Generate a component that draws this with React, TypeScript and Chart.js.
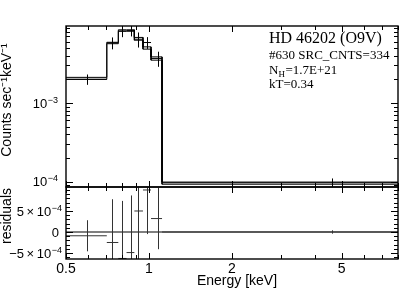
import React, { useEffect, useRef } from 'react';
import { Chart, registerables } from 'chart.js';

Chart.register(...registerables);

// ---- data (energy in keV) ----
const binLo = [0.5, 0.703, 0.774, 0.829, 0.885, 0.951, 1.017, 1.115];
const binHi = [0.703, 0.774, 0.829, 0.885, 0.951, 1.017, 1.115, 8.0];
const binMid = [0.596, 0.736, 0.801, 0.859, 0.913, 0.985, 1.075, 4.6];
const rate = [2.0e-3, 5.8e-3, 8.2e-3, 8.3e-3, 6.46e-3, 5.86e-3, 3.68e-3, 9.7e-5];
const rateErr = [0.3e-3, 1.0e-3, 1.35e-3, 1.3e-3, 1.4e-3, 1.0e-3, 0.8e-3, 1.3e-5];
const modelA = [2.115e-3, 5.9e-3, 8.5e-3, 8.5e-3, 6.8e-3, 5.16e-3, 3.85e-3, 9.9e-5];
const modelB = [1.995e-3, 5.66e-3, 8.15e-3, 8.15e-3, 6.27e-3, 4.83e-3, 3.5e-3, 9.3e-5];
const resid = [-0.9e-4, -2.5e-4, -6.3e-4, -4.9e-4, 5.0e-4, 1.0e-3, 3.2e-4, 0];
const residErr = [3.7e-4, 1.03e-3, 1.37e-3, 1.36e-3, 1.3e-3, 1.05e-3, 7.3e-4, 0.4e-4];

// ---- axes ----
const xMin = 0.5;
const xMax = 8.0;
const yTopMin = 8.57e-5;
const yTopMax = 9.5e-3;
const yResMin = -6.43e-4;
const yResMax = 1.071e-3;

const xLabelVals = [0.5, 1, 2, 5];
const xLabelText = ['0.5', '1', '2', '5'];
const xTickVals = [0.5, 0.6, 0.7, 0.8, 0.9, 1, 2, 3, 4, 5, 6, 7, 8];
const yTopLabelVals = [1e-4, 1e-3];
const yTopLabelBase = ['10', '10'];
const yTopLabelSup = ['\u22124', '\u22123'];
const yTopTickVals = [
  9e-5, 1e-4, 2e-4, 3e-4, 4e-4, 5e-4, 6e-4, 7e-4, 8e-4, 9e-4,
  1e-3, 2e-3, 3e-3, 4e-3, 5e-3, 6e-3, 7e-3, 8e-3, 9e-3,
];
const yResLabelVals = [-5e-4, 0, 5e-4];
const yResLabelBase = ['\u22125\u2009\u00D7\u200910', '0', '5\u2009\u00D7\u200910'];
const yResLabelSup = ['\u22124', '', '\u22124'];
const yResTickVals = [-6e-4, -5e-4, -4e-4, -3e-4, -2e-4, -1e-4, 0, 1e-4, 2e-4, 3e-4, 4e-4, 5e-4, 6e-4, 7e-4, 8e-4, 9e-4, 1e-3];

const yTitle = 'Counts sec\u207B\u00B9keV\u207B\u00B9';
const resTitle = 'residuals';
const xTitle = 'Energy [keV]';
const annot1 = 'HD 46202 (O9V)';
const annot2 = '#630 SRC_CNTS=334';
const annot3a = 'N';
const annot3sub = 'H';
const annot3b = '=1.7E+21';
const annot4 = 'kT=0.34';

const SANS = '"Liberation Sans", Arial, Helvetica, sans-serif';
const SERIF = '"Liberation Serif", "Times New Roman", serif';

function stepPoints(vals: number[]) {
  const pts: { x: number; y: number }[] = [];
  vals.forEach((v, i) => {
    pts.push({ x: binLo[i], y: v });
    pts.push({ x: binHi[i], y: v });
  });
  return pts;
}

function drawCrosses(chart: any, vals: number[], errs: number[], color: string, isLog: boolean) {
  const { ctx, chartArea: a, scales } = chart;
  const x = scales.x;
  const y = scales.y;
  ctx.save();
  ctx.beginPath();
  ctx.rect(a.left, a.top, a.right - a.left, a.bottom - a.top);
  ctx.clip();
  ctx.strokeStyle = color;
  ctx.lineWidth = 1;
  for (let i = 0; i < vals.length; i++) {
    const yv = y.getPixelForValue(vals[i]);
    ctx.beginPath();
    ctx.moveTo(x.getPixelForValue(binLo[i]), yv);
    ctx.lineTo(x.getPixelForValue(binHi[i]), yv);
    const xm = Math.round(x.getPixelForValue(binMid[i])) + 0.5;
    const lo = vals[i] - errs[i];
    ctx.moveTo(xm, y.getPixelForValue(vals[i] + errs[i]));
    ctx.lineTo(xm, isLog && lo <= 0 ? a.bottom + 5 : y.getPixelForValue(lo));
    ctx.stroke();
  }
  ctx.restore();
}

function drawTicksAndFrame(chart: any, yVals: number[], yMajor: number[]) {
  const { ctx, chartArea: a, scales } = chart;
  const x = scales.x;
  const y = scales.y;
  ctx.save();
  ctx.strokeStyle = '#000';
  ctx.lineWidth = 1;
  ctx.beginPath();
  xTickVals.forEach((v) => {
    const px = Math.round(x.getPixelForValue(v)) + 0.5;
    const len = xLabelVals.includes(v) ? 6 : 4;
    ctx.moveTo(px, a.top);
    ctx.lineTo(px, a.top + len);
    ctx.moveTo(px, a.bottom);
    ctx.lineTo(px, a.bottom - len);
  });
  yVals.forEach((v) => {
    const py = Math.round(y.getPixelForValue(v)) + 0.5;
    if (py < a.top || py > a.bottom) return;
    const len = yMajor.includes(v) ? 7 : 4;
    ctx.moveTo(a.left, py);
    ctx.lineTo(a.left + len, py);
    ctx.moveTo(a.right, py);
    ctx.lineTo(a.right - len, py);
  });
  ctx.stroke();
  ctx.lineWidth = 1.4;
  ctx.strokeRect(a.left, a.top, a.right - a.left, a.bottom - a.top);
  ctx.restore();
}

function drawSupLabel(ctx: any, base: string, sup: string, xRight: number, yMid: number) {
  ctx.save();
  ctx.fillStyle = '#000';
  ctx.textBaseline = 'alphabetic';
  ctx.textAlign = 'left';
  ctx.font = `9px ${SANS}`;
  const wSup = sup ? ctx.measureText(sup).width + 0.5 : 0;
  ctx.font = `13px ${SANS}`;
  const wBase = ctx.measureText(base).width;
  const baseline = yMid + 4.6;
  ctx.fillText(base, xRight - wSup - wBase, baseline);
  if (sup) {
    ctx.font = `9px ${SANS}`;
    ctx.fillText(sup, xRight - wSup + 0.5, baseline - 5);
  }
  ctx.restore();
}

const topPlugin = {
  id: 'topDecor',
  afterDatasetsDraw(chart: any) {
    drawCrosses(chart, rate, rateErr, '#000', true);
    drawTicksAndFrame(chart, yTopTickVals, yTopLabelVals);
    const ctx = chart.ctx;
    const y = chart.scales.y;
    yTopLabelVals.forEach((v, i) => {
      drawSupLabel(ctx, yTopLabelBase[i], yTopLabelSup[i], 58, y.getPixelForValue(v));
    });
    ctx.save();
    ctx.fillStyle = '#000';
    // y title
    ctx.save();
    ctx.translate(11, 100);
    ctx.rotate(-Math.PI / 2);
    ctx.font = `14px ${SANS}`;
    ctx.textAlign = 'center';
    ctx.textBaseline = 'alphabetic';
    ctx.fillText(yTitle, 0, 0);
    ctx.restore();
    // annotation
    ctx.textAlign = 'left';
    ctx.textBaseline = 'alphabetic';
    ctx.font = `16px ${SERIF}`;
    ctx.fillText(annot1, 269, 43);
    ctx.font = `13px ${SERIF}`;
    ctx.fillText(annot2, 269, 59);
    ctx.fillText(annot3a, 269, 73.5);
    const wN = ctx.measureText(annot3a).width;
    ctx.font = `9px ${SERIF}`;
    ctx.fillText(annot3sub, 269 + wN, 76.5);
    const wH = ctx.measureText(annot3sub).width;
    ctx.font = `13px ${SERIF}`;
    ctx.fillText(annot3b, 269 + wN + wH + 0.5, 73.5);
    ctx.fillText(annot4, 269, 88);
    ctx.restore();
  },
};

const botPlugin = {
  id: 'botDecor',
  afterDatasetsDraw(chart: any) {
    drawCrosses(chart, resid, residErr, '#333', false);
    drawTicksAndFrame(chart, yResTickVals, yResLabelVals);
    const ctx = chart.ctx;
    const { x, y } = chart.scales;
    yResLabelVals.forEach((v, i) => {
      drawSupLabel(ctx, yResLabelBase[i], yResLabelSup[i], i === 1 ? 59 : 62, y.getPixelForValue(v));
    });
    ctx.save();
    ctx.fillStyle = '#000';
    ctx.font = `14px ${SANS}`;
    ctx.textAlign = 'center';
    ctx.textBaseline = 'alphabetic';
    xLabelVals.forEach((v, i) => {
      ctx.fillText(xLabelText[i], x.getPixelForValue(v), 273);
    });
    ctx.fillText(xTitle, 237, 285);
    ctx.save();
    ctx.translate(11, 216);
    ctx.rotate(-Math.PI / 2);
    ctx.fillText(resTitle, 0, 0);
    ctx.restore();
    ctx.restore();
  },
};

export default function App() {
  const topRef = useRef<HTMLCanvasElement>(null);
  const botRef = useRef<HTMLCanvasElement>(null);

  useEffect(() => {
    const topChart = new Chart(topRef.current as HTMLCanvasElement, {
      type: 'scatter',
      data: {
        datasets: [
          { data: stepPoints(modelA), showLine: true, borderColor: '#000', borderWidth: 1, pointRadius: 0 },
          { data: stepPoints(modelB), showLine: true, borderColor: '#000', borderWidth: 1, pointRadius: 0 },
        ],
      },
      options: {
        responsive: false,
        animation: false,
        devicePixelRatio: 1,
        layout: { padding: { left: 0, top: 26, right: 5, bottom: 112 } },
        plugins: { legend: { display: false }, tooltip: { enabled: false } },
        scales: {
          x: { type: 'logarithmic', min: xMin, max: xMax, display: false },
          y: {
            type: 'logarithmic',
            min: yTopMin,
            max: yTopMax,
            grid: { display: false },
            border: { display: false },
            ticks: { display: false },
            afterFit: (s: any) => {
              s.width = 66;
            },
          },
        },
      },
      plugins: [topPlugin],
    } as any);

    const botChart = new Chart(botRef.current as HTMLCanvasElement, {
      type: 'scatter',
      data: {
        datasets: [
          {
            data: [
              { x: xMin, y: 0 },
              { x: xMax, y: 0 },
            ],
            showLine: true,
            borderColor: '#000',
            borderWidth: 1.2,
            pointRadius: 0,
          },
        ],
      },
      options: {
        responsive: false,
        animation: false,
        devicePixelRatio: 1,
        layout: { padding: { left: 0, top: 187, right: 5, bottom: 0 } },
        plugins: { legend: { display: false }, tooltip: { enabled: false } },
        scales: {
          x: {
            type: 'logarithmic',
            min: xMin,
            max: xMax,
            grid: { display: false },
            border: { display: false },
            ticks: { display: false },
            afterFit: (s: any) => {
              s.height = 40;
            },
          },
          y: {
            type: 'linear',
            min: yResMin,
            max: yResMax,
            grid: { display: false },
            border: { display: false },
            ticks: { display: false },
            afterFit: (s: any) => {
              s.width = 66;
            },
          },
        },
      },
      plugins: [botPlugin],
    } as any);

    return () => {
      topChart.destroy();
      botChart.destroy();
    };
  }, []);

  return (
    <div style={{ position: 'fixed', left: 0, top: 0, width: 403, height: 299, background: '#fff' }}>
      <canvas ref={topRef} width={403} height={299} style={{ position: 'absolute', left: 0, top: 0 }} />
      <canvas ref={botRef} width={403} height={299} style={{ position: 'absolute', left: 0, top: 0 }} />
    </div>
  );
}
